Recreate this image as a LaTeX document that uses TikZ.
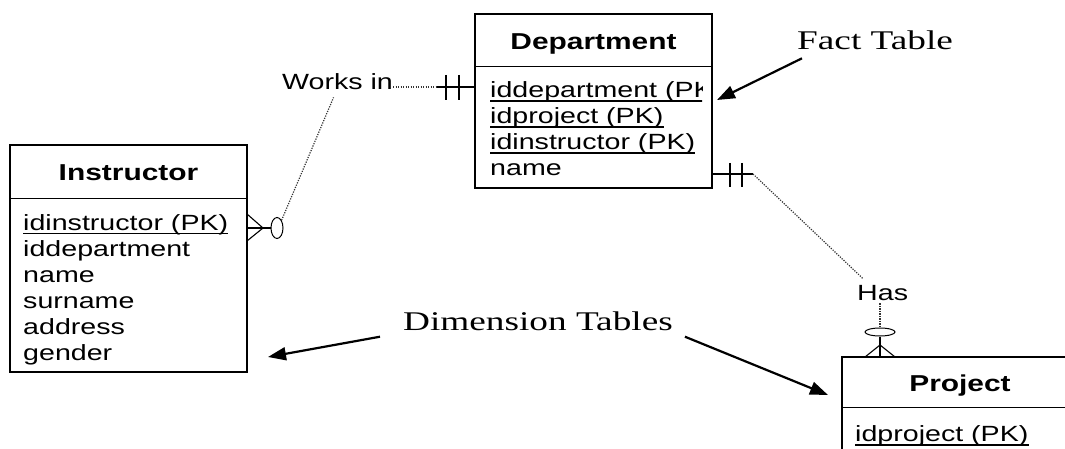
\documentclass[tikz,border=0pt]{standalone}
\usepackage{fontspec}
\setmainfont{Liberation Serif}[FakeStretch=1.38]
\newfontfamily\ersans{Liberation Sans}[FakeStretch=1.3]
\usetikzlibrary{arrows.meta,shapes.geometric}
\begin{document}
\begin{tikzpicture}[x=1pt,y=-1pt,
 tbl/.style={draw, line width=1.2pt, inner sep=0pt, rectangle},
 ttl/.style={anchor=base, inner sep=0pt, font=\ersans\bfseries\fontsize{23}{26}\selectfont},
 fld/.style={anchor=base west, inner sep=0pt, font=\ersans\fontsize{22}{26}\selectfont},
 note/.style={anchor=base west, inner sep=0pt, font=\fontsize{27}{30}\selectfont},
 rel/.style={line width=1.2pt, dash pattern=on 1.2pt off 1.3pt, black!80},
 sol/.style={line width=1.1pt},
 arr/.style={line width=2.2pt, -{Triangle[length=18pt,width=13pt]}},
 ul/.style={line width=1.6pt}]
\clip (0,0) rectangle (1065,449);
\fill[white] (0,0) rectangle (1065,449);

% ---------- Instructor ----------
\node[tbl, minimum width=237pt, minimum height=227pt] (instr) at (128.5,258.5) {};
\draw[sol] (instr.north west) ++(0,54) -- ++(237,0);
\node[ttl] (instrT) at (128.5,180.7) {Instructor};
\node[fld] (i1) at (23,230) {idinstructor (PK)};
\node[fld] (i2) at (23,256) {iddepartment};
\node[fld] (i3) at (23,282) {name};
\node[fld] (i4) at (23,308) {surname};
\node[fld] (i5) at (23,334) {address};
\node[fld] (i6) at (23,360) {gender};
\draw[ul] ([yshift=-3.5pt]i1.base west) -- ([yshift=-3.5pt]i1.base east);

% ---------- Department ----------
\node[tbl, minimum width=237pt, minimum height=174pt] (dept) at (593.5,101) {};
\draw[sol] (dept.north west) ++(0,53) -- ++(237,0);
\node[ttl] (deptT) at (593.5,50) {Department};
\begin{scope}
\clip (476,60) rectangle (702,110);
\node[fld] (d1) at (490,97.5) {iddepartment (PK)};
\draw[ul] ([yshift=-3.5pt]d1.base west) -- ([yshift=-3.5pt]d1.base east);
\end{scope}
\node[fld] (d2) at (490,123.5) {idproject (PK)};
\node[fld] (d3) at (490,149.5) {idinstructor (PK)};
\node[fld] (d4) at (490,175.5) {name};
\draw[ul] ([yshift=-3.5pt]d2.base west) -- ([yshift=-3.5pt]d2.base east);
\draw[ul] ([yshift=-3.5pt]d3.base west) -- ([yshift=-3.5pt]d3.base east);

% ---------- Project ----------
\node[tbl, minimum width=236pt, minimum height=140pt] (proj) at (960,427) {};
\draw[sol] (proj.north west) ++(0,51) -- ++(236,0);
\node[ttl] (projT) at (960,391.7) {Project};
\node[fld] (p1) at (855,441.7) {idproject (PK)};
\draw[ul] ([yshift=-3.5pt]p1.base west) -- ([yshift=-3.5pt]p1.base east);

% ---------- Works in ----------
\node[fld] (works) at (282,90) {Works in};
\node[draw, ellipse, line width=1pt, minimum width=12pt, minimum height=21pt, inner sep=0pt] (c1) at (277,228) {};
\coordinate (v1) at (263,228);
\draw[sol] (instr.east |- v1) -- (c1.west);
\draw[sol] (247,214) -- (v1) -- (247,241);
\draw[rel] (c1.north east) -- ([shift={(-4,7)}]works.south);
\coordinate (j1) at (437,87);
\draw[rel] (works.east |- j1) -- (j1);
\draw[sol] (j1) -- (dept.west |- j1);
\draw[sol] (446,75) -- (446,100);
\draw[sol] (459,75) -- (459,100);

% ---------- Has ----------
\node[fld] (has) at (857,300) {Has};
\coordinate (j2) at (753,174);
\draw[sol] (dept.east |- j2) -- (j2);
\draw[sol] (730,163) -- (730,187);
\draw[sol] (742,163) -- (742,187);
\draw[rel] (j2) -- ([shift={(6,-6)}]has.north west);
\node[draw, ellipse, line width=1pt, minimum width=30pt, minimum height=8pt, inner sep=0pt] (c2) at (880,332) {};
\draw[rel] ([yshift=-3pt]has.south -| c2.north) -- (c2.north);
\coordinate (v2) at (880,345);
\draw[sol] (c2.south) -- (c2.south |- proj.north);
\draw[sol] (865,357) -- (v2) -- (895,357);

% ---------- Notes ----------
\node[note] (fact) at (797,49.3) {Fact Table};
\coordinate (factEnd) at (717,100);
\draw[arr] ([shift={(5,9)}]fact.base west) -- (factEnd);
\node[note] (dim) at (403,330.7) {Dimension Tables};
\coordinate (dimL) at (268,357);
\coordinate (dimR) at (828,395);
\draw[arr] ([shift={(-23,6)}]dim.base west) -- (dimL);
\draw[arr] ([shift={(12,6)}]dim.base east) -- (dimR);
\end{tikzpicture}
\end{document}
